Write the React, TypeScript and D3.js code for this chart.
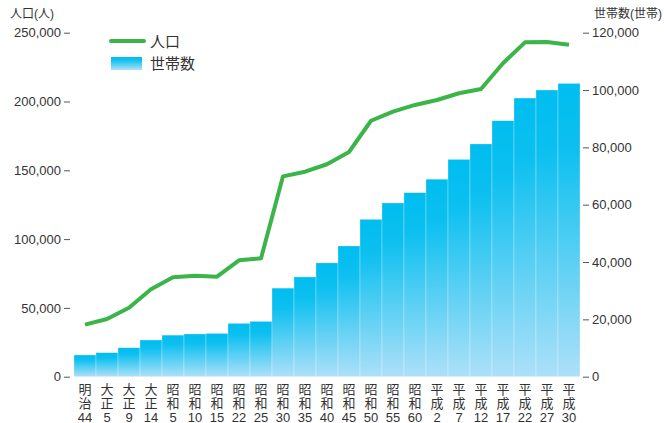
import { useEffect, useRef } from 'react'
import * as d3 from 'd3'

// 年次ラベル (元号 / 年)
const eras = ['明治', '大正', '大正', '大正', '昭和', '昭和', '昭和', '昭和', '昭和', '昭和', '昭和', '昭和', '昭和', '昭和', '昭和', '昭和', '平成', '平成', '平成', '平成', '平成', '平成', '平成']
const years = ['44', '5', '9', '14', '5', '10', '15', '22', '25', '30', '35', '40', '45', '50', '55', '60', '2', '7', '12', '17', '22', '27', '30']

// 人口(人)
const population = [37800, 41900, 50100, 63500, 72200, 73400, 72700, 84600, 86000, 145600, 149000, 154400, 163300, 186000, 192600, 197500, 201100, 206000, 209100, 227800, 243000, 243200, 241300]

// 世帯数(世帯)
const households = [7570, 8370, 10100, 12800, 14500, 14900, 15100, 18600, 19300, 30900, 34800, 39700, 45600, 54900, 60600, 64200, 68900, 75800, 81200, 89300, 97200, 100000, 102300]

const leftTicks = [0, 50000, 100000, 150000, 200000, 250000]
const rightTicks = [0, 20000, 40000, 60000, 80000, 100000, 120000]

const W = 664
const H = 423
const FONT = '"Liberation Sans", "Noto Sans CJK JP", sans-serif'

export default function App() {
  const svgRef = useRef<SVGSVGElement>(null)

  useEffect(() => {
    if (!svgRef.current) return
    const svg = d3.select(svgRef.current)
    svg.selectAll('*').remove()

    const top = 32.7
    const bottom = 376.7
    const left = 74
    const right = 580

    const keys = years.map((y, i) => `${i}`)
    const x = d3.scaleBand().domain(keys).range([left, right]).padding(0)
    const yPop = d3.scaleLinear().domain([0, 250000]).range([bottom, top])
    const yHh = d3.scaleLinear().domain([0, 120000]).range([bottom, top])

    const defs = svg.append('defs')
    const grad = defs.append('linearGradient')
      .attr('id', 'barGrad')
      .attr('x1', 0).attr('y1', 0).attr('x2', 0).attr('y2', 1)
    grad.append('stop').attr('offset', '0%').attr('stop-color', '#00bdf0')
    grad.append('stop').attr('offset', '22%').attr('stop-color', '#0cc0f0')
    grad.append('stop').attr('offset', '100%').attr('stop-color', '#ade0f8')

    // 世帯数 bars
    svg.append('g')
      .selectAll('rect')
      .data(households)
      .enter().append('rect')
      .attr('x', (d, i) => x(`${i}`)!)
      .attr('y', d => yHh(d))
      .attr('width', x.bandwidth())
      .attr('height', d => bottom - yHh(d))
      .attr('fill', 'url(#barGrad)')
      .attr('stroke', 'rgba(255,255,255,0.45)')
      .attr('stroke-width', 0.6)

    // 人口 line
    const line = d3.line<number>()
      .x((d, i) => x(`${i}`)! + x.bandwidth() / 2)
      .y(d => yPop(d))

    svg.append('path')
      .datum(population)
      .attr('fill', 'none')
      .attr('stroke', '#3bb44a')
      .attr('stroke-width', 4)
      .attr('stroke-linejoin', 'round')
      .attr('d', line)

    // axes
    const leftAxis = svg.append('g')
      .attr('transform', `translate(70,0)`)
      .call(d3.axisLeft(yPop).tickValues(leftTicks).tickSize(6).tickPadding(3).tickFormat(d3.format(',') as any))
    const rightAxis = svg.append('g')
      .attr('transform', `translate(583,0)`)
      .call(d3.axisRight(yHh).tickValues(rightTicks).tickSize(6).tickPadding(3).tickFormat(d3.format(',') as any))

    for (const ax of [leftAxis, rightAxis]) {
      ax.select('.domain').remove()
      ax.selectAll('line').attr('stroke', '#555').attr('stroke-width', 1)
      ax.selectAll('text')
        .attr('fill', '#333')
        .style('font-size', '13px')
        .style('font-family', FONT)
    }

    // category labels
    const cat = svg.append('g')
      .style('font-family', FONT)
      .style('font-size', '13px')
      .attr('fill', '#333')
      .attr('text-anchor', 'middle')
    eras.forEach((era, i) => {
      const cx = x(`${i}`)! + x.bandwidth() / 2
      cat.append('text').attr('x', cx).attr('y', 394).text(era[0])
      cat.append('text').attr('x', cx).attr('y', 408).text(era[1])
      cat.append('text').attr('x', cx).attr('y', 421.5).text(years[i])
    })

    // axis titles
    svg.append('text')
      .attr('x', 10).attr('y', 18)
      .attr('fill', '#333')
      .style('font-family', FONT)
      .style('font-size', '12px')
      .text('人口(人)')
    svg.append('text')
      .attr('x', 594).attr('y', 18)
      .attr('fill', '#333')
      .style('font-family', FONT)
      .style('font-size', '12px')
      .text('世帯数(世帯)')

    // legend
    const lg = svg.append('g')
      .style('font-family', FONT)
      .style('font-size', '15px')
      .attr('fill', '#333')
    lg.append('line')
      .attr('x1', 111).attr('x2', 144).attr('y1', 41).attr('y2', 41)
      .attr('stroke', '#3bb44a').attr('stroke-width', 4).attr('stroke-linecap', 'round')
    lg.append('text').attr('x', 150).attr('y', 46.5).text('人口')
    lg.append('rect')
      .attr('x', 111).attr('y', 57).attr('width', 31).attr('height', 13)
      .attr('fill', 'url(#barGrad)')
    lg.append('text').attr('x', 150).attr('y', 68.5).text('世帯数')
  }, [])

  return (
    <svg
      ref={svgRef}
      width={W}
      height={H}
      style={{ position: 'absolute', left: 0, top: 0, background: '#fff' }}
    />
  )
}
